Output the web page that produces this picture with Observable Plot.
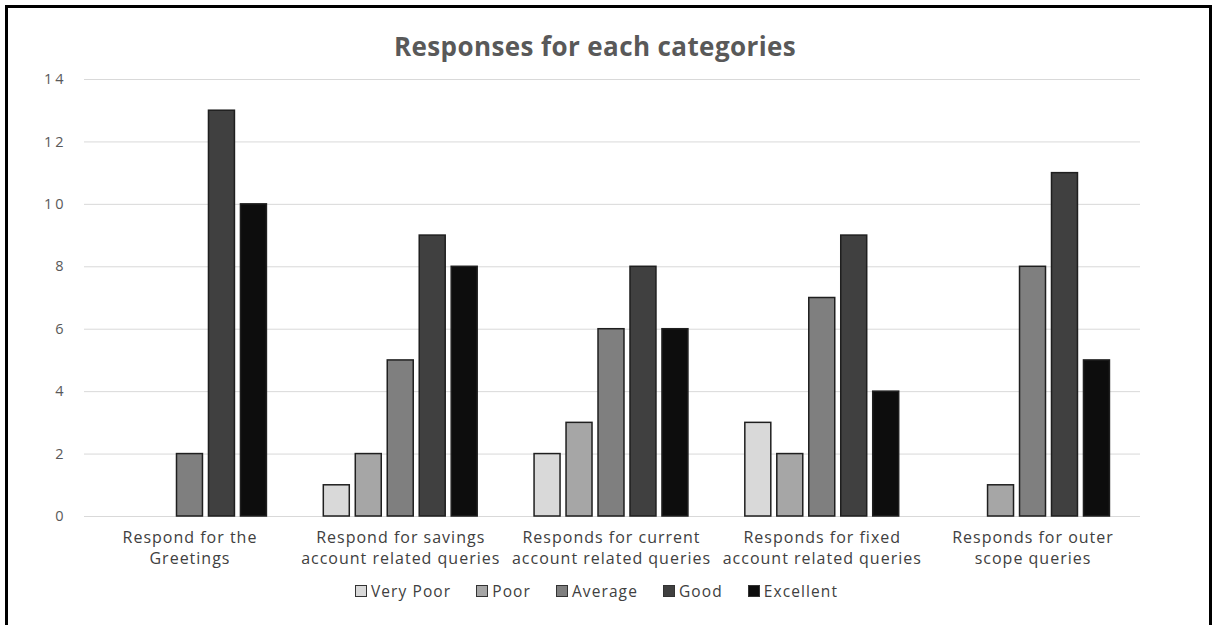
<!DOCTYPE html>
<html>
<head>
<meta charset="utf-8">
<script src="https://cdn.jsdelivr.net/npm/d3@7"></script>
<script src="https://cdn.jsdelivr.net/npm/@observablehq/plot@0.6"></script>
<style>
  body { margin: 0; background: #fff; font-family: "Open Sans", sans-serif; }
  #frame { position: absolute; left: 5px; top: 5px; width: 1201px; height: 650px; border: 3px solid #000; }
  #title { position: absolute; left: 0; top: 30px; width: 1190px; text-align: center;
           font-weight: bold; font-size: 26px; color: #595959; line-height: 32px; letter-spacing: 0.4px; }
  .layer { position: absolute; left: 0; top: 60px; }
  #legend { position: absolute; left: 0; top: 580px; width: 1193px; display: flex; justify-content: center;
            gap: 25px; font-size: 15.5px; color: #404040; line-height: 22px; letter-spacing: 1.1px; }
  .item { display: flex; align-items: center; gap: 4px; }
  .sw { width: 12px; height: 12px; box-sizing: border-box; border: 1px solid #333; }
</style>
</head>
<body>
<div id="frame"></div>
<div id="title">Responses for each categories</div>
<div id="grid" class="layer"></div>
<div id="bars" class="layer"></div>
<div id="legend"></div>
<script>
const categories = [
  "Respond for the\nGreetings",
  "Respond for savings\naccount related queries",
  "Responds for current\naccount related queries",
  "Responds for fixed\naccount related queries",
  "Responds for outer\nscope queries"
];
const ratings = ["Very Poor", "Poor", "Average", "Good", "Excellent"];
const veryPoor  = [0, 1, 2, 3, 0];
const poor      = [0, 2, 3, 2, 1];
const average   = [2, 5, 6, 7, 8];
const good      = [13, 9, 8, 9, 11];
const excellent = [10, 8, 6, 4, 5];
const yTicks = [0, 2, 4, 6, 8, 10, 12, 14];
const colors = ["#d9d9d9", "#a6a6a6", "#7f7f7f", "#404040", "#0d0d0d"];

const series = [veryPoor, poor, average, good, excellent];
const rows = categories.flatMap((c, i) =>
  ratings.map((r, j) => ({category: c, rating: r, value: series[j][i]}))
);

// shared frame geometry for the two stacked layers
const frame = {
  width: 1213, height: 510,
  marginTop: 19, marginBottom: 54
};

// background layer: continuous gridlines and value axis
const gridLayer = Plot.plot({
  ...frame,
  marginLeft: 84, marginRight: 73,
  style: {fontFamily: "Open Sans, sans-serif", background: "transparent", letterSpacing: "3px"},
  y: {domain: [0, 14], label: null},
  marks: [
    Plot.ruleY(yTicks, {stroke: "#d9d9d9", strokeWidth: 1}),
    Plot.axisY(yTicks, {tickSize: 0, tickPadding: 18, fill: "#595959", fontSize: 14.5, label: null})
  ]
});
document.getElementById("grid").appendChild(gridLayer);

// foreground layer: grouped bars, one facet per category
const barLayer = Plot.plot({
  ...frame,
  marginLeft: 84, marginRight: 75,
  style: {fontFamily: "Open Sans, sans-serif", background: "transparent", letterSpacing: "1px"},
  y: {domain: [0, 14], axis: null},
  fx: {domain: categories, paddingInner: 0.213, paddingOuter: 0.107, round: false, label: null},
  x: {domain: ratings, padding: 0.1875, round: false, axis: null},
  color: {domain: ratings, range: colors},
  marks: [
    Plot.axisFx({anchor: "bottom", tickSize: 0, tickPadding: 12, fill: "#404040", fontSize: 16,
                 lineHeight: 1.3, label: null}),
    Plot.barY(rows, {
      fx: "category", x: "rating", y: "value", fill: "rating",
      stroke: "#1f1f1f", strokeWidth: 1.5,
      filter: d => d.value > 0
    })
  ]
});
document.getElementById("bars").appendChild(barLayer);

const legend = document.getElementById("legend");
ratings.forEach((r, j) => {
  const item = document.createElement("span");
  item.className = "item";
  const sw = document.createElement("span");
  sw.className = "sw";
  sw.style.background = colors[j];
  const label = document.createElement("span");
  label.textContent = r;
  item.append(sw, label);
  legend.appendChild(item);
});
</script>
</body>
</html>
